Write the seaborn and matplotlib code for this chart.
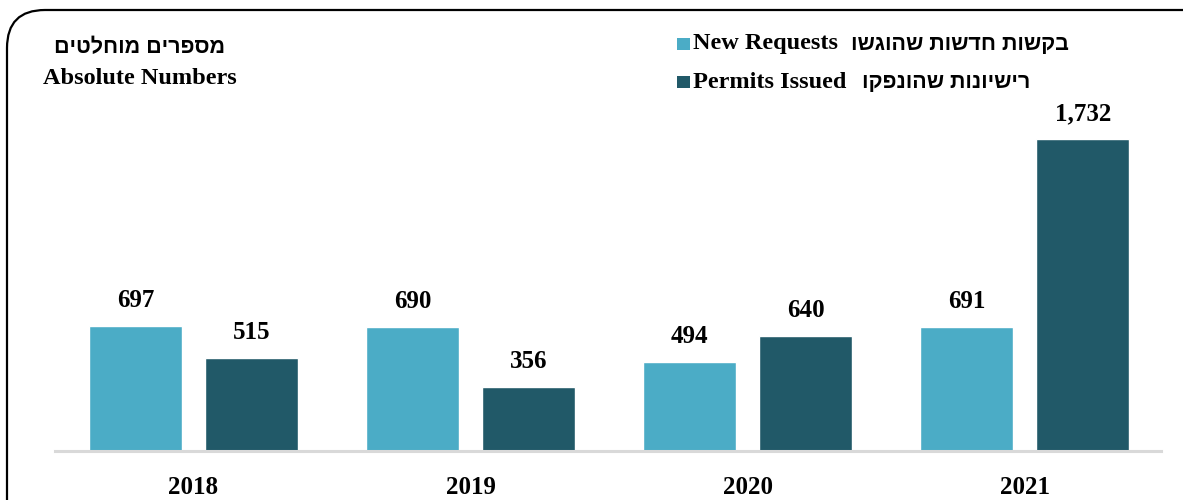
import matplotlib
matplotlib.use("Agg")
import matplotlib.pyplot as plt
from matplotlib.patches import FancyBboxPatch, Rectangle
import pandas as pd
import seaborn as sns

years = ["2018", "2019", "2020", "2021"]
new_requests = [697, 690, 494, 691]
permits_issued = [515, 356, 640, 1732]
series_en = ["New Requests", "Permits Issued"]
series_he = ["בקשות חדשות שהוגשו", "רישיונות שהונפקו"]
title_he = "מספרים מוחלטים"
title_en = "Absolute Numbers"
colors = ["#4BACC6", "#215968"]


def rtl(s):
    # matplotlib has no bidi support, so flip the Hebrew for display
    return s[::-1]


df = pd.DataFrame({
    "year": years * 2,
    "value": new_requests + permits_issued,
    "series": [series_en[0]] * 4 + [series_en[1]] * 4,
})

sns.set_style("white")
plt.rcParams["text.color"] = "black"
plt.rcParams["xtick.color"] = "black"
serif = ["Liberation Serif", "DejaVu Serif"]
hebrew = ["Liberation Sans", "DejaVu Sans"]

fig = plt.figure(figsize=(11.83, 5), dpi=100)
ax = fig.add_axes([0.0465, 0.098, 0.9345, 0.72])

sns.barplot(data=df, x="year", y="value", hue="series", palette=colors,
            width=0.84, gap=0.2, legend=False, ax=ax, saturation=1)

for cont in ax.containers:
    labels = [f"{v:,.0f}" for v in cont.datavalues]
    ax.bar_label(cont, labels=labels, padding=10, fontsize=18,
                 fontweight="bold", family=serif, color="black")

ax.set_xlim(-0.5, 3.49)
ax.set_ylim(0, 2000)
ax.set_xlabel("")
ax.set_ylabel("")
ax.set_yticks([])
ax.tick_params(axis="x", length=0, pad=18)
for lab in ax.get_xticklabels():
    lab.set_fontsize(18)
    lab.set_fontweight("bold")
    lab.set_family(serif)
    lab.set_color("black")
for side in ["left", "right", "top"]:
    ax.spines[side].set_visible(False)
ax.spines["bottom"].set_color("#D9D9D9")
ax.spines["bottom"].set_linewidth(2.2)

# rounded frame, running off the right and bottom edges
frame = FancyBboxPatch((0.07, -0.6), 12.3, 5.5,
                       boxstyle="round,pad=0,rounding_size=0.38",
                       transform=fig.dpi_scale_trans, fill=False,
                       edgecolor="black", linewidth=1.6, clip_on=False)
fig.patches.append(frame)

W, H = 1183, 500


def fx(px):
    return px / W


def fy(py):
    return 1 - py / H


fig.text(fx(140), fy(48), rtl(title_he), ha="center", va="center",
         fontsize=15.5, fontweight="bold", family=hebrew, color="black")
fig.text(fx(140), fy(79), title_en, ha="center", va="center",
         fontsize=17.5, fontweight="bold", family=serif, color="black")

rows = [44, 82]
he_x = [851, 862]
for i in range(2):
    fig.patches.append(Rectangle((fx(677), fy(rows[i] + 6)), fx(13), 12 / H,
                                 transform=fig.transFigure,
                                 facecolor=colors[i], edgecolor="none"))
    fig.text(fx(693), fy(rows[i]), series_en[i], ha="left", va="center",
             fontsize=17.5, fontweight="bold", family=serif, color="black")
    fig.text(fx(he_x[i]), fy(rows[i]), rtl(series_he[i]), ha="left",
             va="center", fontsize=15.5, fontweight="bold", family=hebrew,
             color="black")

fig.savefig("out.png", dpi=100)
